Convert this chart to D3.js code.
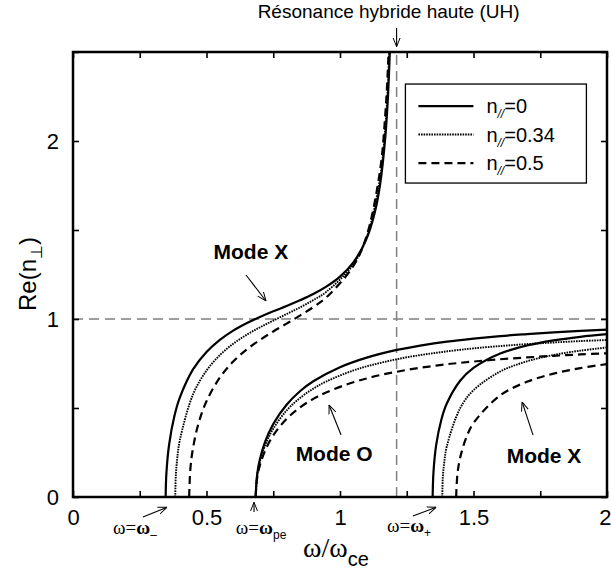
<!DOCTYPE html>
<html lang="fr">
<head>
<meta charset="UTF-8">
<title>Indice de réfraction perpendiculaire</title>
<script src="https://d3js.org/d3.v7.min.js"></script>
<style>
  body { margin: 0; background: #fff; }
  text { font-family: "Liberation Sans", Arial, sans-serif; fill: #000; }
  .serif { font-family: "Liberation Serif", "Times New Roman", serif; }
</style>
</head>
<body>
<div id="chart"></div>
<script>
// axis ticks
var xTicks = [0, 0.25, 0.5, 0.75, 1, 1.25, 1.5, 1.75, 2];
var xLabels = [0, 0.5, 1, 1.5, 2];
var yTicks = [0, 0.5, 1, 1.5, 2, 2.5];
var yLabels = [0, 1, 2];

// reference lines : n = 1 and upper hybrid resonance
var nVacuum = 1;
var wUH = 1.212;

// legend
var legendLabels = ["0", "0.34", "0.5"];

// Re(n_perp) versus omega/omega_ce
// lower X mode (from omega_- to the UH resonance)
var xLow0 = [[0.347, 0], [0.35, 0.138], [0.36, 0.295], [0.38, 0.456], [0.40, 0.558], [0.45, 0.718],
  [0.5, 0.815], [0.55, 0.883], [0.6, 0.935], [0.65, 0.976], [0.7, 1.011], [0.75, 1.043], [0.8, 1.073],
  [0.85, 1.105], [0.9, 1.140], [0.95, 1.183], [1.0, 1.238], [1.05, 1.318], [1.1, 1.453], [1.13, 1.597],
  [1.15, 1.754], [1.17, 2.027], [1.18, 2.26], [1.19, 2.653]];
var xLow034 = [[0.383, 0], [0.385, 0.119], [0.39, 0.210], [0.40, 0.318], [0.45, 0.578], [0.5, 0.710],
  [0.55, 0.797], [0.6, 0.861], [0.65, 0.911], [0.7, 0.953], [0.75, 0.991], [0.8, 1.028], [0.85, 1.065],
  [0.9, 1.106], [0.95, 1.154], [1.05, 1.307], [1.1, 1.459], [1.15, 1.791], [1.17, 2.087], [1.18, 2.339],
  [1.19, 2.761]];
var xLow05 = [[0.435, 0], [0.44, 0.165], [0.45, 0.279], [0.47, 0.413], [0.5, 0.538], [0.55, 0.671],
  [0.6, 0.761], [0.65, 0.828], [0.7, 0.882], [0.75, 0.930], [0.8, 0.974], [0.85, 1.019], [0.9, 1.067],
  [0.95, 1.123], [1.05, 1.298], [1.1, 1.468], [1.15, 1.834], [1.17, 2.157], [1.18, 2.430], [1.19, 2.884]];

// O mode (from omega_pe)
var modeO0 = [[0.684, 0], [0.69, 0.130], [0.70, 0.212], [0.72, 0.312], [0.75, 0.410], [0.8, 0.518],
  [0.85, 0.594], [0.9, 0.650], [1.0, 0.729], [1.1, 0.783], [1.2, 0.822], [1.3, 0.850], [1.4, 0.873],
  [1.5, 0.890], [1.6, 0.904], [1.7, 0.915], [1.8, 0.925], [1.9, 0.933], [2.0, 0.940]];
var modeO034 = [[0.684, 0], [0.69, 0.122], [0.7, 0.198], [0.72, 0.292], [0.75, 0.384], [0.8, 0.486],
  [0.85, 0.556], [0.9, 0.609], [0.95, 0.650], [1.05, 0.711], [1.1, 0.734], [1.15, 0.753], [1.2, 0.770],
  [1.25, 0.785], [1.3, 0.797], [1.35, 0.808], [1.4, 0.818], [1.45, 0.827], [1.5, 0.835], [1.6, 0.848],
  [1.7, 0.859], [1.8, 0.868], [1.9, 0.876], [2.0, 0.882]];
var modeO05 = [[0.684, 0], [0.69, 0.110], [0.7, 0.179], [0.72, 0.263], [0.75, 0.346], [0.8, 0.439],
  [0.85, 0.503], [0.9, 0.551], [0.95, 0.589], [1.05, 0.645], [1.1, 0.666], [1.15, 0.685], [1.2, 0.700],
  [1.25, 0.714], [1.3, 0.726], [1.35, 0.736], [1.4, 0.746], [1.44, 0.752], [1.5, 0.761], [1.6, 0.774],
  [1.7, 0.784], [1.8, 0.793], [1.9, 0.801], [2.0, 0.807]];

// upper X mode (from omega_+)
var xUp0 = [[1.347, 0], [1.35, 0.137], [1.36, 0.290], [1.38, 0.437], [1.4, 0.525], [1.45, 0.653],
  [1.5, 0.725], [1.6, 0.806], [1.7, 0.851], [1.8, 0.880], [1.9, 0.900], [2.0, 0.915]];
var xUp034 = [[1.383, 0], [1.385, 0.108], [1.39, 0.189], [1.4, 0.284], [1.45, 0.499], [1.5, 0.600],
  [1.6, 0.705], [1.7, 0.762], [1.8, 0.798], [1.9, 0.822], [2.0, 0.840]];
var xUp05 = [[1.435, 0], [1.44, 0.131], [1.45, 0.220], [1.47, 0.322], [1.5, 0.415], [1.6, 0.571],
  [1.7, 0.647], [1.8, 0.693], [1.9, 0.724], [2.0, 0.747]];

// line style per parallel index
var styles = [
  { dash: null, width: 2.2 },
  { dash: "1.6,1", width: 1.9 },
  { dash: "8,5", width: 2.2 }
];
var series = [
  { data: xLow0, s: 0 }, { data: xLow034, s: 1 }, { data: xLow05, s: 2 },
  { data: modeO0, s: 0 }, { data: modeO034, s: 1 }, { data: modeO05, s: 2 },
  { data: xUp0, s: 0 }, { data: xUp034, s: 1 }, { data: xUp05, s: 2 }
];

var W = 611, H = 577;
var margin = { top: 52, right: 4, bottom: 80, left: 73 };
var width = W - margin.left - margin.right,
  height = H - margin.top - margin.bottom;

var svg = d3.select("#chart").append("svg")
  .attr("width", W).attr("height", H);

var defs = svg.append("defs");
defs.append("clipPath").attr("id", "plot-clip")
  .append("rect").attr("width", width).attr("height", height);
defs.append("marker").attr("id", "arrow")
  .attr("viewBox", "0 0 10 10").attr("refX", 10).attr("refY", 5)
  .attr("markerWidth", 9).attr("markerHeight", 9)
  .attr("markerUnits", "userSpaceOnUse").attr("orient", "auto")
  .append("path").attr("d", "M0,1 L10,5 L0,9")
  .attr("fill", "none").attr("stroke", "#000").attr("stroke-width", 1.1);

var g = svg.append("g")
  .attr("transform", "translate(" + margin.left + "," + margin.top + ")");

var x = d3.scaleLinear().domain([0, 2]).range([0, width]);
var y = d3.scaleLinear().domain([0, 2.5]).range([height, 0]);

// reference dashed lines
g.append("line")
  .attr("x1", x(0)).attr("x2", x(2)).attr("y1", y(nVacuum)).attr("y2", y(nVacuum))
  .attr("stroke", "#808080").attr("stroke-width", 1.5).attr("stroke-dasharray", "10,6");
g.append("line")
  .attr("x1", x(wUH)).attr("x2", x(wUH)).attr("y1", y(0)).attr("y2", y(2.5))
  .attr("stroke", "#808080").attr("stroke-width", 1.5).attr("stroke-dasharray", "10,6");

// curves
var line = d3.line()
  .x(function (d) { return x(d[0]); })
  .y(function (d) { return y(d[1]); })
  .curve(d3.curveCatmullRom.alpha(0.5));

g.append("g").attr("clip-path", "url(#plot-clip)")
  .selectAll("path").data(series).enter().append("path")
  .attr("d", function (d) { return line(d.data); })
  .attr("fill", "none").attr("stroke", "#000")
  .attr("stroke-width", function (d) { return styles[d.s].width; })
  .attr("stroke-dasharray", function (d) { return styles[d.s].dash; });

// axes : ticks inside on the four sides
function fmt(v) { return xLabels.indexOf(v) >= 0 ? d3.format("~g")(v) : ""; }
function fmtY(v) { return yLabels.indexOf(v) >= 0 ? d3.format("~g")(v) : ""; }

var xb = g.append("g").attr("transform", "translate(0," + height + ")")
  .call(d3.axisBottom(x).tickValues(xTicks).tickSizeInner(-6).tickSizeOuter(0).tickPadding(12).tickFormat(fmt));
var xt = g.append("g")
  .call(d3.axisTop(x).tickValues(xTicks).tickSizeInner(-6).tickSizeOuter(0).tickFormat(""));
var yl = g.append("g")
  .call(d3.axisLeft(y).tickValues(yTicks).tickSizeInner(-6).tickSizeOuter(0).tickPadding(14).tickFormat(fmtY));
var yr = g.append("g").attr("transform", "translate(" + width + ",0)")
  .call(d3.axisRight(y).tickValues(yTicks).tickSizeInner(-6).tickSizeOuter(0).tickFormat(""));

[xb, xt, yl, yr].forEach(function (a) {
  a.select(".domain").remove();
  a.selectAll(".tick line").attr("stroke", "#000").attr("stroke-width", 1.6);
  a.selectAll(".tick text")
    .style("font-family", "'Liberation Sans', Arial, sans-serif")
    .style("font-size", "22px").attr("fill", "#000");
});
// last x label sits on the right edge of the picture
xb.selectAll(".tick text").filter(function (d) { return d === 2; })
  .attr("text-anchor", "end").attr("x", 4);

g.append("rect").attr("width", width).attr("height", height)
  .attr("fill", "none").attr("stroke", "#000").attr("stroke-width", 2.5);

// legend
var lg = g.append("g").attr("transform", "translate(" + x(1.245) + "," + y(2.32) + ")");
lg.append("rect").attr("width", 181).attr("height", 99)
  .attr("fill", "#fff").attr("stroke", "#000").attr("stroke-width", 1.3);
legendLabels.forEach(function (lab, i) {
  var yy = 22 + i * 28.5;
  lg.append("line").attr("x1", 13).attr("x2", 68).attr("y1", yy).attr("y2", yy)
    .attr("stroke", "#000").attr("stroke-width", styles[i].width)
    .attr("stroke-dasharray", styles[i].dash);
  var t = lg.append("text").attr("x", 81).attr("y", yy + 7).style("font-size", "20px");
  t.append("tspan").text("n");
  t.append("tspan").attr("dy", 5).style("font-size", "12px").style("font-style", "italic").text("//");
  t.append("tspan").attr("dy", -5).text("=" + lab);
});

// annotations (data coordinates)
function arrow(x1, y1, x2, y2) {
  g.append("line").attr("x1", x(x1)).attr("y1", y(y1)).attr("x2", x(x2)).attr("y2", y(y2))
    .attr("stroke", "#000").attr("stroke-width", 1.1).attr("marker-end", "url(#arrow)");
}
function label(txt, xv, yv) {
  g.append("text").attr("x", x(xv)).attr("y", y(yv)).attr("text-anchor", "middle")
    .style("font-size", "21px").style("font-weight", "bold").text(txt);
}
label("Mode X", 0.666, 1.337);
arrow(0.648, 1.247, 0.723, 1.101);
label("Mode O", 0.978, 0.202);
arrow(1.004, 0.348, 0.959, 0.517);
label("Mode X", 1.764, 0.191);
arrow(1.723, 0.348, 1.682, 0.534);

g.append("text").attr("x", x(wUH) - 8).attr("y", y(2.691)).attr("text-anchor", "middle")
  .style("font-size", "19px").text("Résonance hybride haute (UH)");
arrow(wUH, 2.635, wUH, 2.53);

function omegaLabel(xv, yv, sub) {
  var t = g.append("text").attr("x", x(xv)).attr("y", y(yv)).attr("class", "serif")
    .style("font-size", "19px");
  t.append("tspan").text("ω=");
  t.append("tspan").style("font-weight", "bold").text("ω");
  t.append("tspan").attr("dy", 5).style("font-size", "12px")
    .style("font-family", "'Liberation Sans', Arial, sans-serif").text(sub);
}
omegaLabel(0.15, -0.208, "–");
arrow(0.262, -0.112, 0.352, -0.058);
omegaLabel(0.61, -0.208, "pe");
arrow(0.678, -0.084, 0.678, -0.03);
omegaLabel(1.176, -0.198, "+");
arrow(1.273, -0.107, 1.36, -0.058);

// axis titles
var xt2 = svg.append("text").attr("x", 303).attr("y", 557);
xt2.append("tspan").attr("class", "serif").style("font-size", "28px").text("ω/ω");
xt2.append("tspan").attr("dy", 9).style("font-size", "20px").text("ce");

var yt = svg.append("text").attr("transform", "translate(36,274) rotate(-90)")
  .attr("text-anchor", "middle").style("font-size", "24px");
yt.append("tspan").text("Re(n");
yt.append("tspan").attr("dy", 6).style("font-size", "16px").text("⊥");
yt.append("tspan").attr("dy", -6).text(")");
</script>
</body>
</html>
